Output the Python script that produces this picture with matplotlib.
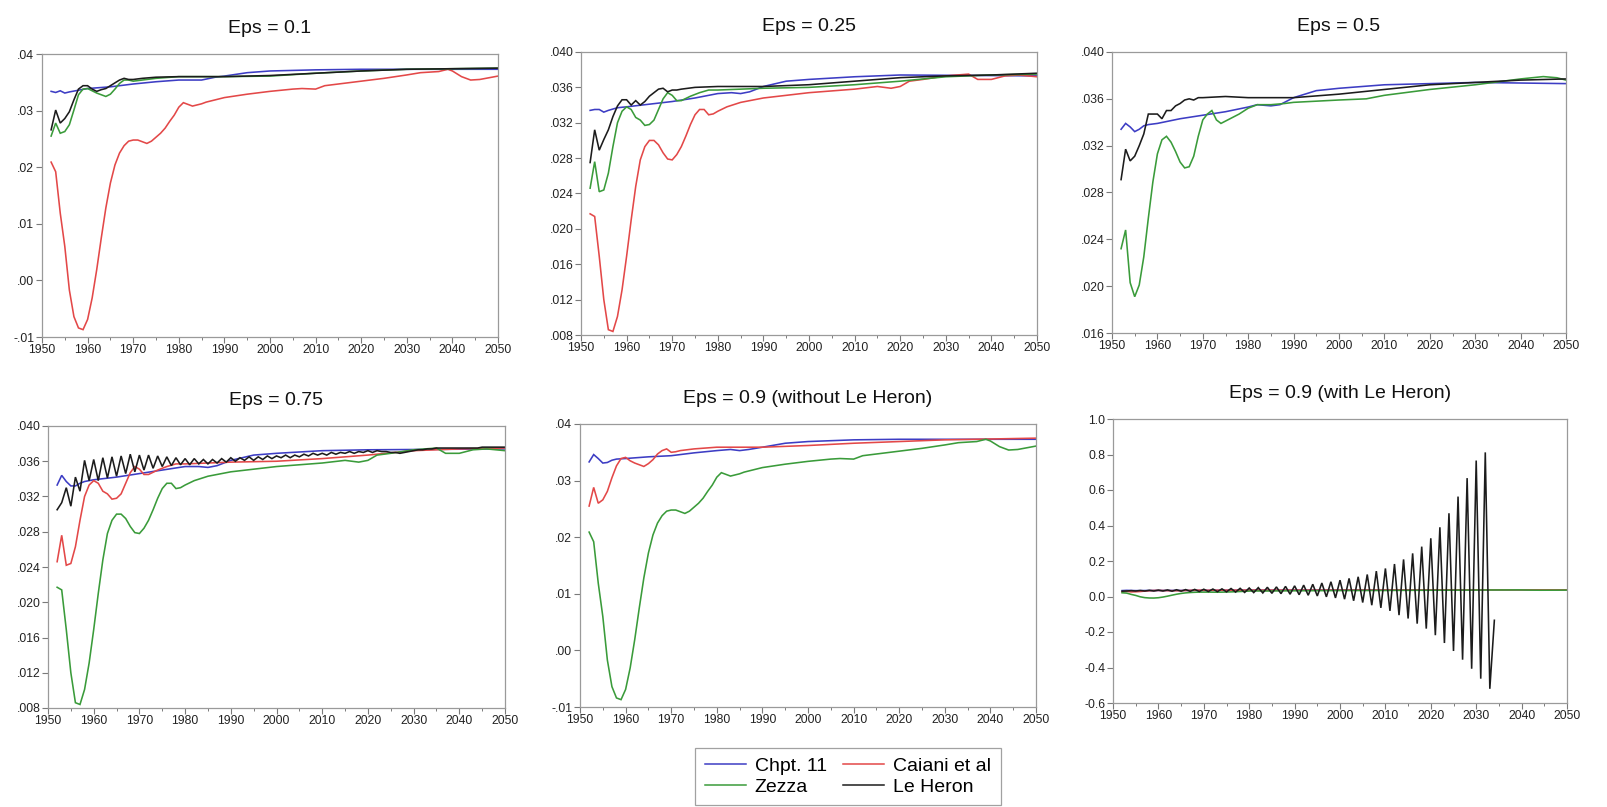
#!/usr/bin/env python3
"""
Growth-rate paths under four model variants, for several values of eps.
Six panels (2 x 3) with a shared legend underneath.
"""
import matplotlib
matplotlib.use('Agg')
import matplotlib.pyplot as plt
from matplotlib.lines import Line2D
from matplotlib.ticker import FuncFormatter, MultipleLocator

plt.rcParams['font.family'] = ['Liberation Sans', 'DejaVu Sans']

C_CH11 = '#3d3dc4'    # Chpt. 11
C_CAIANI = '#e34848'  # Caiani et al
C_ZEZZA = '#3a9b3a'   # Zezza
C_LEHERON = '#1c1c1c' # Le Heron

# ---------------------------------------------------------------- eps = 0.1
P1_CH11_YR = [1952, 1953, 1954, 1955, 1956, 1958, 1960, 1965, 1970, 1975,
              1980, 1985, 1988, 1990, 1995, 2000, 2010, 2020, 2050]
P1_CH11 = [.0334, .0332, .0335, .0331, .0333, .0336, .0339, .0342, .0347, .0351,
           .0354, .0354, .0359, .0361, .0367, .0370, .0372, .0373, .0373]

P1_CAIANI_YR = list(range(1952, 1987)) + [1988, 1990, 1995, 2000, 2005, 2007, 2010, 2012,
                                         2015, 2020, 2025, 2030, 2033, 2037, 2039, 2040,
                                         2042, 2044, 2046, 2048, 2050]
P1_CAIANI = [.0209, .0192, .0119, .0060, -.0017, -.0064, -.0084, -.0087, -.0069, -.0031,
             .0019, .0075, .0128, .0172, .0204, .0225, .0238, .0246, .0248, .0248,
             .0245, .0242, .0246, .0253, .0260, .0269, .0281, .0292, .0306, .0314,
             .0311, .0308, .0310, .0312, .0315,
             .0319, .0323, .0329, .0334, .0338, .0339, .0338, .0344,
             .0347, .0352, .0357, .0363, .0367, .0369, .0373, .0370,
             .0360, .0354, .0355, .0358, .0361]

P1_ZEZZA_YR = list(range(1952, 1973)) + [1975, 1980, 1990, 2000, 2010, 2020, 2030, 2050]
P1_ZEZZA = [.0255, .0278, .0260, .0263, .0275, .0301, .0328, .0338, .0339, .0335,
            .0331, .0328, .0325, .0329, .0338, .0348, .0354, .0354, .0352, .0353,
            .0354, .0357, .0360, .0360, .0361, .0366, .0370, .0373, .0375]

P1_LEHERON_YR = list(range(1952, 1973)) + [1975, 1980, 1990, 2000, 2010, 2020, 2030, 2050]
P1_LEHERON = [.0266, .0301, .0278, .0286, .0298, .0319, .0338, .0344, .0344, .0338,
              .0334, .0337, .0339, .0344, .0349, .0354, .0357, .0355, .0355, .0356,
              .0357, .0359, .0360, .0360, .0362, .0366, .0370, .0373, .0375]

# --------------------------------------------------------------- eps = 0.25
P2_CH11_YR = [1952, 1953, 1954, 1955, 1956, 1958, 1960, 1965, 1970, 1975,
              1980, 1983, 1985, 1987, 1990, 1995, 2000, 2010, 2020, 2050]
P2_CH11 = [.0334, .0335, .0335, .0332, .0334, .0337, .0338, .0341, .0344, .0348,
           .0353, .0354, .0353, .0355, .0361, .0367, .0369, .0372, .0374, .0373]

P2_CAIANI_YR = list(range(1952, 1981)) + [1982, 1985, 1990, 1995, 2000, 2005, 2010, 2015,
                                         2018, 2020, 2022, 2025, 2030, 2035, 2037, 2040,
                                         2043, 2046, 2050]
P2_CAIANI = [.0217, .0214, .0169, .0120, .0086, .0084, .0101, .0131, .0169, .0210,
             .0248, .0278, .0293, .0300, .0300, .0295, .0286, .0279, .0278, .0284,
             .0293, .0305, .0318, .0329, .0335, .0335, .0329, .0330, .0333,
             .0338, .0343, .0348, .0351, .0354, .0356, .0358, .0361,
             .0359, .0361, .0367, .0369, .0373, .0375, .0369, .0369,
             .0373, .0374, .0372]

P2_ZEZZA_YR = list(range(1952, 1973)) + [1974, 1976, 1978, 1980, 1985, 1990, 2000, 2010,
                                        2020, 2030, 2040, 2050]
P2_ZEZZA = [.0246, .0276, .0242, .0244, .0263, .0293, .0320, .0333, .0338, .0335,
            .0326, .0323, .0317, .0318, .0323, .0335, .0347, .0354, .0351, .0345,
            .0345, .0350, .0354, .0357, .0357, .0358, .0359, .0360, .0363,
            .0367, .0372, .0374, .0375]

P2_LEHERON_YR = list(range(1952, 1973)) + [1975, 1980, 1990, 2000, 2010, 2020, 2030, 2040, 2050]
P2_LEHERON = [.0275, .0312, .0289, .0301, .0312, .0327, .0339, .0346, .0346, .0340,
              .0345, .0340, .0344, .0350, .0354, .0358, .0359, .0355, .0357, .0357,
              .0358, .0360, .0361, .0361, .0363, .0367, .0371, .0373, .0374, .0376]

# ---------------------------------------------------------------- eps = 0.5
P3_CH11_YR = [1952, 1953, 1954, 1955, 1956, 1957, 1958, 1960, 1965, 1970, 1975,
              1980, 1982, 1985, 1987, 1990, 1995, 2000, 2010, 2020, 2030, 2050]
P3_CH11 = [.0334, .0339, .0336, .0332, .0334, .0337, .0338, .0339, .0343, .0346, .0349,
           .0353, .0355, .0354, .0355, .0361, .0367, .0369, .0372, .0373, .0374, .0373]

P3_ZEZZA_YR = list(range(1952, 1977)) + [1978, 1980, 1982, 1985, 1988, 1990, 2000, 2006,
                                        2010, 2020, 2030, 2040, 2045, 2048, 2050]
P3_ZEZZA = [.0232, .0248, .0203, .0191, .0201, .0225, .0258, .0289, .0313, .0325,
            .0328, .0323, .0315, .0306, .0301, .0302, .0311, .0328, .0342, .0347,
            .0350, .0342, .0339, .0341, .0343,
            .0347, .0352, .0355, .0355, .0356, .0357, .0359, .0360,
            .0363, .0368, .0372, .0377, .0379, .0378, .0376]

P3_LEHERON_YR = list(range(1952, 1971)) + [1975, 1980, 1990, 2000, 2010, 2020, 2030, 2040, 2050]
P3_LEHERON = [.0291, .0317, .0307, .0311, .0320, .0330, .0347, .0347, .0347, .0343,
              .0350, .0350, .0354, .0356, .0359, .0360, .0359, .0361, .0361,
              .0362, .0361, .0361, .0364, .0368, .0372, .0374, .0376, .0377]

# --------------------------------------------------------------- eps = 0.75
P4_CH11_YR = [1952, 1953, 1954, 1955, 1956, 1957, 1958, 1960, 1965, 1970, 1975,
              1980, 1983, 1985, 1987, 1990, 1995, 2000, 2010, 2020, 2050]
P4_CH11 = [.0333, .0344, .0337, .0332, .0332, .0335, .0337, .0339, .0342, .0346, .0350,
           .0354, .0354, .0353, .0355, .0361, .0367, .0369, .0372, .0373, .0374]

# Caiani and Zezza trade places relative to eps = 0.25
P4_CAIANI_YR, P4_CAIANI = P2_ZEZZA_YR, P2_ZEZZA
P4_ZEZZA_YR, P4_ZEZZA = P2_CAIANI_YR, P2_CAIANI

P4_LEHERON_YR = list(range(1952, 2051))
P4_LEHERON = [.0305, .0313, .0330, .0309, .0342, .0326, .0361, .0338, .0362, .0338,
              .0364, .0341, .0365, .0343, .0366, .0346, .0368, .0348, .0367, .0350,
              .0367, .0352, .0366, .0354, .0365, .0355, .0364, .0356, .0363, .0356,
              .0363, .0357, .0362, .0357, .0362, .0358, .0363, .0359, .0364, .0360,
              .0364, .0361, .0365, .0361, .0365, .0362, .0366, .0363, .0366, .0364,
              .0367, .0364, .0367, .0365, .0368, .0366, .0369, .0367, .0369, .0367,
              .0370, .0368, .0370, .0369, .0371, .0369, .0371, .0370, .0372, .0370,
              .0372, .0371, .0371, .0370, .0370, .0369, .0370, .0371, .0372, .0373,
              .0373, .0374, .0374, .0375, .0375, .0375, .0375, .0375, .0375, .0375,
              .0375, .0375, .0375, .0376, .0376, .0376, .0376, .0376, .0376]

# ---------------------------------------------------------------- eps = 0.9
P5_CH11_YR = [1952, 1953, 1954, 1955, 1956, 1957, 1958, 1960, 1965, 1970, 1975,
              1980, 1983, 1985, 1987, 1990, 1995, 2000, 2010, 2020, 2050]
P5_CH11 = [.0333, .0346, .0339, .0331, .0332, .0336, .0338, .0339, .0342, .0344, .0349,
           .0353, .0355, .0353, .0355, .0359, .0366, .0369, .0372, .0373, .0373]

P5_CAIANI_YR = list(range(1952, 1973)) + [1975, 1980, 1990, 2000, 2010, 2020, 2030, 2050]
P5_CAIANI = [.0255, .0288, .0260, .0266, .0281, .0305, .0326, .0339, .0341, .0335,
             .0331, .0328, .0325, .0330, .0337, .0347, .0353, .0356, .0350, .0351,
             .0353, .0356, .0359, .0359, .0362, .0366, .0369, .0372, .0375]

P5_ZEZZA_YR, P5_ZEZZA = P1_CAIANI_YR, P1_CAIANI

# Le Heron diverges at eps = 0.9 and the run stops after 2034
P6_LEHERON_YR = list(range(1952, 2035))
P6_LEHERON = [.030, .031, .033, .031, .034, .031, .035, .031, .036, .031,
              .037, .030, .038, .030, .039, .029, .040, .028, .041, .028,
              .042, .027, .043, .026, .045, .025, .046, .023, .048, .022,
              .050, .020, .052, .018, .054, .016, .057, .013, .060, .010,
              .064, .007, .069, .003, .076, -.002, .083, -.008, .092, -.015,
              .102, -.024, .111, -.034, .124, -.049, .143, -.064, .158, -.081,
              .183, -.105, .209, -.124, .243, -.153, .281, -.181, .328, -.218,
              .390, -.262, .469, -.307, .563, -.356, .667, -.407, .766, -.463,
              .812, -.520, -.134]

TITLES = ['Eps = 0.1', 'Eps = 0.25', 'Eps = 0.5',
          'Eps = 0.75', 'Eps = 0.9 (without Le Heron)', 'Eps = 0.9 (with Le Heron)']

PANELS = [
    [(P1_CH11_YR, P1_CH11, C_CH11), (P1_CAIANI_YR, P1_CAIANI, C_CAIANI),
     (P1_ZEZZA_YR, P1_ZEZZA, C_ZEZZA), (P1_LEHERON_YR, P1_LEHERON, C_LEHERON)],
    [(P2_CH11_YR, P2_CH11, C_CH11), (P2_CAIANI_YR, P2_CAIANI, C_CAIANI),
     (P2_ZEZZA_YR, P2_ZEZZA, C_ZEZZA), (P2_LEHERON_YR, P2_LEHERON, C_LEHERON)],
    [(P3_CH11_YR, P3_CH11, C_CH11),
     (P3_ZEZZA_YR, P3_ZEZZA, C_ZEZZA), (P3_LEHERON_YR, P3_LEHERON, C_LEHERON)],
    [(P4_CH11_YR, P4_CH11, C_CH11), (P4_CAIANI_YR, P4_CAIANI, C_CAIANI),
     (P4_ZEZZA_YR, P4_ZEZZA, C_ZEZZA), (P4_LEHERON_YR, P4_LEHERON, C_LEHERON)],
    [(P5_CH11_YR, P5_CH11, C_CH11), (P5_CAIANI_YR, P5_CAIANI, C_CAIANI),
     (P5_ZEZZA_YR, P5_ZEZZA, C_ZEZZA)],
    [(P5_CH11_YR, P5_CH11, C_CH11), (P5_CAIANI_YR, P5_CAIANI, C_CAIANI),
     (P5_ZEZZA_YR, P5_ZEZZA, C_ZEZZA), (P6_LEHERON_YR, P6_LEHERON, C_LEHERON)],
]

# (ymin, ymax, step, decimals, eviews-style short labels)
Y_AXES = [(-.01, .04, .01, 2, True), (.008, .040, .004, 3, True), (.016, .040, .004, 3, True),
          (.008, .040, .004, 3, True), (-.01, .04, .01, 2, True), (-.6, 1.0, .2, 1, False)]

# axes rectangles in pixels: left, top, right, bottom (figure is 1608 x 807)
BOXES = [(42, 54, 498, 337), (581, 52, 1037, 335), (1112, 52, 1566, 333),
         (48, 426, 505, 708), (580, 424, 1036, 707), (1113, 419, 1567, 703)]

W, H = 1608, 807


def short_fmt(dec, strip):
    def f(v, _):
        s = f'{v:.{dec}f}'
        if s.startswith('-') and float(s) == 0:
            s = s[1:]
        return s.replace('0.', '.', 1) if strip else s
    return FuncFormatter(f)


fig = plt.figure(figsize=(W / 100, H / 100), dpi=100)

for i in range(6):
    l, t, r, b = BOXES[i]
    ax = fig.add_axes([l / W, 1 - b / H, (r - l) / W, (b - t) / H])
    for yr, vals, col in PANELS[i]:
        ax.plot(yr, vals, color=col, lw=1.15, solid_joinstyle='miter')
    ymin, ymax, step, dec, strip = Y_AXES[i]
    ax.set_xlim(1950, 2050)
    ax.set_ylim(ymin, ymax)
    ax.yaxis.set_major_locator(MultipleLocator(step))
    ax.yaxis.set_major_formatter(short_fmt(dec, strip))
    ax.xaxis.set_major_locator(MultipleLocator(10))
    ax.xaxis.set_minor_locator(MultipleLocator(5))
    ax.tick_params(which='major', direction='out', length=4, width=0.8, color='#7a7a7a',
                   labelsize=8.8, labelcolor='#222222', pad=1.5)
    ax.tick_params(which='minor', direction='out', length=2.5, width=0.7, color='#7a7a7a')
    ax.tick_params(axis='x', which='major', pad=1)
    for sp in ax.spines.values():
        sp.set_color('#9a9a9a')
        sp.set_linewidth(0.9)
    ax.set_title(TITLES[i], fontsize=14, pad=15, color='#111111')

handles = [Line2D([], [], color=C_CH11, lw=1.1), Line2D([], [], color=C_ZEZZA, lw=1.1),
           Line2D([], [], color=C_CAIANI, lw=1.1), Line2D([], [], color=C_LEHERON, lw=1.1)]
labels = ['Chpt. 11', 'Zezza', 'Caiani et al', 'Le Heron']
leg = fig.legend(handles, labels, ncol=2, loc='center', bbox_to_anchor=(848 / W, 1 - 776.5 / H),
                 fontsize=14, frameon=True, fancybox=False, edgecolor='#8a8a8a',
                 handlelength=2.1, handletextpad=0.45, columnspacing=0.85,
                 labelspacing=0.17, borderpad=0.5, borderaxespad=0)
leg.get_frame().set_linewidth(0.9)

fig.savefig('out.png', dpi=100, facecolor='white')
plt.close(fig)
